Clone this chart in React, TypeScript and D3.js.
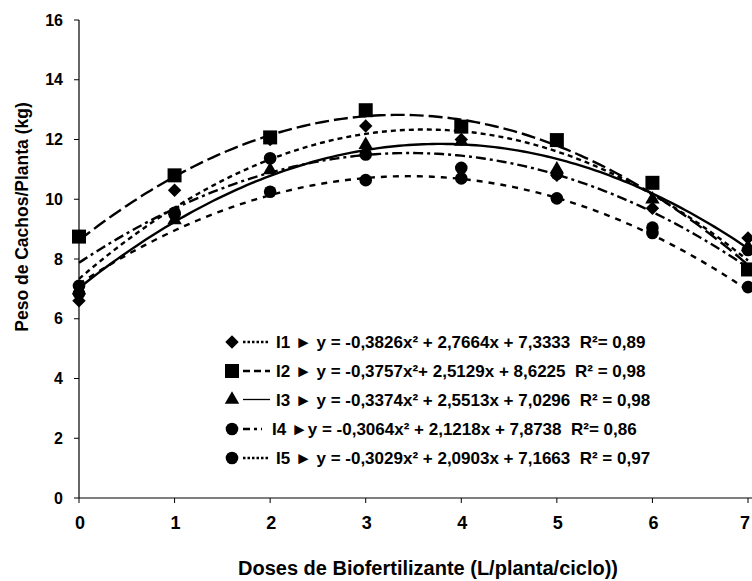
import React from "react";
import * as d3 from "d3";

const doses = [0, 1, 2, 3, 4, 5, 6, 7];
const seriesNames = ["I1", "I2", "I3", "I4", "I5"];
const i1 = [6.6, 10.3, 12.0, 12.45, 12.0, 10.8, 9.7, 8.7];
const i2 = [8.75, 10.8, 12.07, 12.98, 12.43, 11.98, 10.55, 7.65];
const i3 = [6.95, 9.3, 10.98, 11.82, 11.93, 11.0, 10.0, 8.4];
const i4 = [7.1, 9.55, 11.37, 11.5, 11.05, 10.85, 9.05, 8.3];
const i5 = [6.85, 9.5, 10.25, 10.64, 10.7, 10.03, 8.87, 7.06];
// trendline coefficients [a, b, c] for y = a x² + b x + c (from legend)
const coefs = [
  [-0.3826, 2.7664, 7.3333],
  [-0.3757, 2.5129, 8.6225],
  [-0.3374, 2.5513, 7.0296],
  [-0.3064, 2.1218, 7.8738],
  [-0.3029, 2.0903, 7.1663],
];
const legendTexts = [
  "I1 \u25BA y = -0,3826x\u00B2 + 2,7664x + 7,3333  R\u00B2= 0,89",
  "I2 \u25BA y = -0,3757x\u00B2+ 2,5129x + 8,6225  R\u00B2 = 0,98",
  "I3 \u25BA y = -0,3374x\u00B2 + 2,5513x + 7,0296  R\u00B2 = 0,98",
  "I4 \u25BAy = -0,3064x\u00B2 + 2,1218x + 7,8738  R\u00B2= 0,86",
  "I5 \u25BA y = -0,3029x\u00B2 + 2,0903x + 7,1663  R\u00B2 = 0,97",
];
const yTicks = [0, 2, 4, 6, 8, 10, 12, 14, 16];
const xTicks = [0, 1, 2, 3, 4, 5, 6, 7];

const allSeries = [i1, i2, i3, i4, i5];
const markerTypes = ["diamond", "square", "triangle", "circle", "circle"];
const dashes = ["5,4", "14,5", "", "10,4,3,4", "6,6"];

const FONT = "'Liberation Sans', Arial, Helvetica, sans-serif";

function Marker({ type, x, y }: { type: string; x: number; y: number }) {
  if (type === "square") return <rect x={x - 7} y={y - 7} width={14} height={14} fill="#000" />;
  if (type === "diamond") {
    const s = d3.symbol().type(d3.symbolDiamond2).size(115)();
    return <path d={s as string} transform={`translate(${x},${y})`} fill="#000" />;
  }
  if (type === "triangle") {
    const s = d3.symbol().type(d3.symbolTriangle).size(90)();
    return <path d={s as string} transform={`translate(${x},${y})`} fill="#000" />;
  }
  return <circle cx={x} cy={y} r={6.3} fill="#000" />;
}

export default function App() {
  const x = d3.scaleLinear().domain([0, 7]).range([79, 748]);
  const y = d3.scaleLinear().domain([0, 16]).range([498, 20]);
  const samples = d3.range(0, 7.0001, 0.05);
  const line = d3
    .line<number[]>()
    .x((d) => x(d[0]))
    .y((d) => y(d[1]))
    .curve(d3.curveLinear);

  const legendY = [342, 371, 399.5, 429, 458];

  return (
    <svg
      width={752}
      height={581}
      style={{ position: "absolute", left: 0, top: 0, background: "#fff" }}
      fontFamily={FONT}
    >
      <rect width={752} height={581} fill="#fff" />
      {/* axes */}
      <line x1={x(0)} x2={x(0)} y1={y(16)} y2={y(0)} stroke="#000" strokeWidth={1.2} />
      <line x1={x(0)} x2={752} y1={y(0)} y2={y(0)} stroke="#000" strokeWidth={1.2} />
      {yTicks.map((t) => (
        <g key={"y" + t}>
          <line x1={x(0) - 5} x2={x(0)} y1={y(t)} y2={y(t)} stroke="#000" strokeWidth={1} />
          <text x={63} y={y(t)} dy="0.35em" textAnchor="end" fontSize={16} fontWeight="bold">
            {t}
          </text>
        </g>
      ))}
      {xTicks.map((t) => (
        <g key={"x" + t}>
          <line x1={x(t)} x2={x(t)} y1={y(0)} y2={y(0) + 5} stroke="#000" strokeWidth={1} />
          <text
            x={t === 7 ? 745 : x(t) + 1}
            y={529}
            textAnchor="middle"
            fontSize={18}
            fontWeight="bold"
          >
            {t}
          </text>
        </g>
      ))}
      <text x={428} y={575} textAnchor="middle" fontSize={20} fontWeight="bold">
        Doses de Biofertilizante (L/planta/ciclo))
      </text>
      <text
        transform={`translate(28,217) rotate(-90)`}
        textAnchor="middle"
        fontSize={17.5}
        fontWeight="bold"
      >
        Peso de Cachos/Planta (kg)
      </text>

      {/* trendlines */}
      {coefs.map((c, i) => (
        <path
          key={"t" + i}
          d={line(samples.map((s) => [s, c[0] * s * s + c[1] * s + c[2]])) as string}
          fill="none"
          stroke="#000"
          strokeWidth={2.4}
          strokeDasharray={dashes[i] || undefined}
        />
      ))}

      {/* markers */}
      {allSeries.map((vals, i) => (
        <g key={"m" + i}>
          {vals.map((v, j) => (
            <Marker key={j} type={markerTypes[i]} x={x(doses[j])} y={y(v)} />
          ))}
        </g>
      ))}

      {/* legend */}
      {seriesNames.map((n, i) => (
        <g key={"l" + n}>
          <Marker type={markerTypes[i]} x={232} y={legendY[i]} />
          <line
            x1={243}
            x2={i === 3 ? 262 : 270}
            y1={legendY[i]}
            y2={legendY[i]}
            stroke="#000"
            strokeWidth={i === 2 ? 1.3 : 2.4}
            strokeDasharray={i === 0 || i === 4 ? "2.5,2" : i === 1 ? "7,4" : i === 3 ? "7,4,3,4" : undefined}
          />
          <text
            x={i === 3 ? 272 : 276}
            y={legendY[i]}
            dy="0.36em"
            fontSize={17}
            fontWeight="bold"
            style={{ whiteSpace: "pre" }}
            xmlSpace="preserve"
          >
            {legendTexts[i]}
          </text>
        </g>
      ))}
    </svg>
  );
}
